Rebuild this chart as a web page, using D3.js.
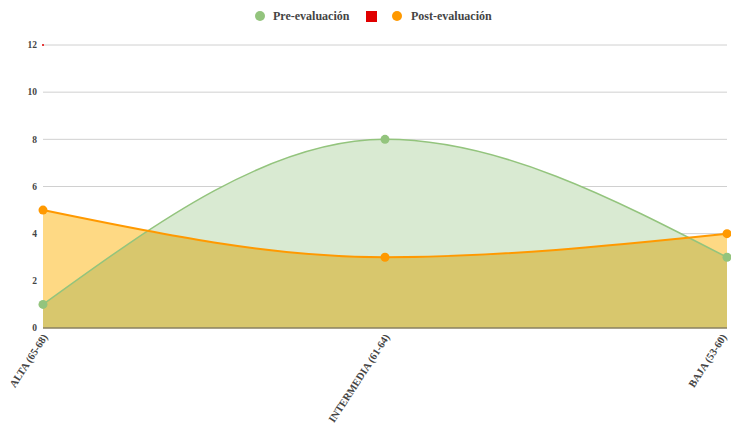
<!DOCTYPE html>
<html>
<head>
<meta charset="utf-8">
<script src="https://cdn.jsdelivr.net/npm/d3@7"></script>
<style>
  body { margin: 0; background: #fff; }
  text { font-family: "Liberation Serif", "DejaVu Serif", serif; fill: #444; }
</style>
</head>
<body>
<div id="container"></div>
<script>
// data
const categories = ["ALTA (65-68)", "INTERMEDIA (61-64)", "BAJA (53-60)"];
const preValues = [1, 8, 3];
const postValues = [5, 3, 4];
const unnamedValues = [12, null, null];
const yTicks = [0, 2, 4, 6, 8, 10, 12];

const width = 731, height = 426;
const margin = { top: 45, right: 4, bottom: 98, left: 43 };

const svg = d3.select("#container").append("svg")
    .attr("width", width)
    .attr("height", height);

const xScale = d3.scalePoint()
    .domain(categories)
    .range([margin.left, width - margin.right]);

const yScale = d3.scaleLinear()
    .domain([0, 12])
    .range([height - margin.bottom, margin.top]);

// grid
svg.append("g")
    .selectAll("line")
    .data(yTicks.filter(d => d > 0))
    .join("line")
    .attr("x1", margin.left)
    .attr("x2", width - margin.right)
    .attr("y1", d => yScale(d))
    .attr("y2", d => yScale(d))
    .attr("stroke", "#d0d0d0")
    .attr("stroke-width", 1);

const pre = categories.map((c, i) => ({ c, v: preValues[i] }));
const post = categories.map((c, i) => ({ c, v: postValues[i] }));

const area = d3.area()
    .curve(d3.curveMonotoneX)
    .x(d => xScale(d.c))
    .y0(yScale(0))
    .y1(d => yScale(d.v));

const line = d3.line()
    .curve(d3.curveMonotoneX)
    .x(d => xScale(d.c))
    .y(d => yScale(d.v));

const plot = svg.append("g").style("isolation", "isolate");

plot.append("path")
    .datum(pre)
    .attr("d", area)
    .attr("fill", "rgb(217,234,210)");

plot.append("path")
    .datum(post)
    .attr("d", area)
    .attr("fill", "rgb(254,217,132)")
    .style("mix-blend-mode", "multiply");

// baseline
svg.append("line")
    .attr("x1", margin.left)
    .attr("x2", width - margin.right)
    .attr("y1", yScale(0))
    .attr("y2", yScale(0))
    .attr("stroke", "#8a8060")
    .attr("stroke-width", 1.5);

svg.append("path")
    .datum(pre)
    .attr("d", line)
    .attr("fill", "none")
    .attr("stroke", "#93c47d")
    .attr("stroke-width", 1.5);

svg.append("path")
    .datum(post)
    .attr("d", line)
    .attr("fill", "none")
    .attr("stroke", "#ff9900")
    .attr("stroke-width", 2);

svg.selectAll("circle.pre")
    .data(pre)
    .join("circle")
    .attr("class", "pre")
    .attr("cx", d => xScale(d.c))
    .attr("cy", d => yScale(d.v))
    .attr("r", 4.5)
    .attr("fill", "#93c47d");

svg.selectAll("circle.post")
    .data(post)
    .join("circle")
    .attr("class", "post")
    .attr("cx", d => xScale(d.c))
    .attr("cy", d => yScale(d.v))
    .attr("r", 4.5)
    .attr("fill", "#ff9900");

svg.selectAll("circle.unnamed")
    .data(categories.map((c, i) => ({ c, v: unnamedValues[i] })).filter(d => d.v !== null))
    .join("circle")
    .attr("class", "unnamed")
    .attr("cx", d => xScale(d.c))
    .attr("cy", d => yScale(d.v))
    .attr("r", 1)
    .attr("fill", "#e00000");

// y axis labels
svg.append("g")
    .selectAll("text")
    .data(yTicks)
    .join("text")
    .attr("x", 37)
    .attr("y", d => yScale(d))
    .attr("dy", "0.35em")
    .attr("text-anchor", "end")
    .style("font-size", "9.5px")
    .style("font-weight", "bold")
    .text(d => d);

// x axis labels
svg.append("g")
    .selectAll("text")
    .data(categories)
    .join("text")
    .attr("transform", (d, i) => `translate(${xScale(d) + (i === categories.length - 1 ? -3 : 2)},${yScale(0) + 7}) rotate(-57)`)
    .attr("text-anchor", "end")
    .attr("dy", "0.35em")
    .style("font-size", "10.5px")
    .style("font-weight", "bold")
    .text(d => d);

// legend
const legend = svg.append("g").style("font-size", "12px");
legend.append("circle").attr("cx", 260).attr("cy", 16).attr("r", 5).attr("fill", "#93c47d");
legend.append("text").attr("x", 273).attr("y", 16).attr("dy", "0.35em").style("font-weight", "bold").text("Pre-evaluación");
legend.append("rect").attr("x", 366).attr("y", 11).attr("width", 11).attr("height", 11).attr("fill", "#e00000");
legend.append("circle").attr("cx", 397).attr("cy", 16).attr("r", 5).attr("fill", "#ff9900");
legend.append("text").attr("x", 411).attr("y", 16).attr("dy", "0.35em").style("font-weight", "bold").text("Post-evaluación");
</script>
</body>
</html>
